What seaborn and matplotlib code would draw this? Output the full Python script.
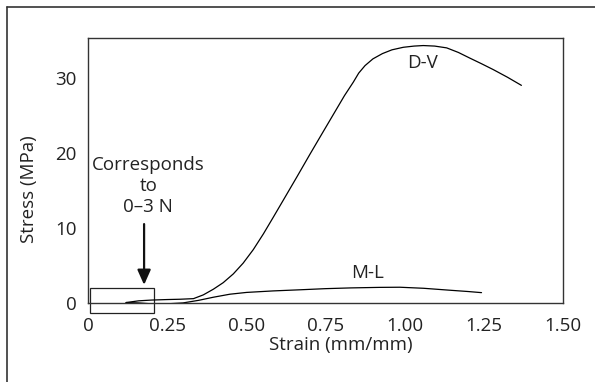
import pandas as pd
import matplotlib
matplotlib.use('Agg')
import matplotlib.pyplot as plt
from matplotlib.patches import Rectangle
from matplotlib.lines import Line2D
import seaborn as sns

# Stress-strain curves
dv_strain = [0.12, 0.16, 0.20, 0.25, 0.29, 0.333, 0.364, 0.396, 0.427, 0.459, 0.49, 0.522,
             0.554, 0.585, 0.617, 0.66, 0.701, 0.74, 0.775, 0.81, 0.838, 0.855, 0.875, 0.90,
             0.93, 0.96, 0.996, 1.03, 1.059, 1.095, 1.133, 1.17, 1.206, 1.243, 1.28, 1.325, 1.369]
dv_stress = [0.05, 0.28, 0.38, 0.45, 0.49, 0.57, 1.07, 1.83, 2.7, 3.87, 5.3, 7.1,
             9.2, 11.4, 13.7, 16.8, 19.8, 22.6, 25.1, 27.6, 29.4, 30.6, 31.6, 32.5,
             33.2, 33.7, 34.04, 34.2, 34.27, 34.2, 33.96, 33.35, 32.6, 31.85, 31.07, 30.05, 28.97]
ml_strain = [0.12, 0.16, 0.20, 0.25, 0.30, 0.35, 0.396, 0.448, 0.501, 0.585, 0.67, 0.75,
             0.83, 0.92, 0.985, 1.06, 1.14, 1.20, 1.243]
ml_stress = [0.05, 0.0, -0.12, -0.12, 0.0, 0.35, 0.76, 1.16, 1.4, 1.6, 1.75, 1.9,
             2.0, 2.07, 2.09, 1.95, 1.7, 1.52, 1.37]

dv = pd.DataFrame({'Strain': dv_strain, 'Stress': dv_stress})
ml = pd.DataFrame({'Strain': ml_strain, 'Stress': ml_stress})

sns.set_style("white")
plt.rcParams['font.family'] = ['Open Sans', 'DejaVu Sans']

fig = plt.figure(figsize=(5.95, 3.82), dpi=100)
ax = fig.add_axes([0.148, 0.207, 0.798, 0.694])

sns.lineplot(data=dv, x='Strain', y='Stress', sort=False, color='black', linewidth=0.9, ax=ax)
sns.lineplot(data=ml, x='Strain', y='Stress', sort=False, color='black', linewidth=0.9, ax=ax)

fs = 13.5
ax.set_xlim(0, 1.5)
ax.set_ylim(0, 35.3)
ax.set_xticks([0, 0.25, 0.5, 0.75, 1.0, 1.25, 1.5])
ax.set_xticklabels(['0', '0.25', '0.50', '0.75', '1.00', '1.25', '1.50'])
ax.set_yticks([0, 10, 20, 30])
ax.tick_params(length=0, labelsize=fs, colors='#222222')
ax.tick_params(axis='x', pad=10)
ax.tick_params(axis='y', pad=8)
for s in ax.spines.values():
    s.set_color('#333333')
    s.set_linewidth(1.0)

ax.set_xlabel('Strain (mm/mm)', fontsize=fs, color='#222222')
ax.set_ylabel('Stress (MPa)', fontsize=fs, color='#222222')
ax.xaxis.set_label_coords(0.533, -0.125)
ax.yaxis.set_label_coords(-0.105, 0.43)

ax.text(1.058, 32.0, 'D-V', ha='center', va='center', fontsize=fs, color='#222222')
ax.text(0.882, 4.0, 'M-L', ha='center', va='center', fontsize=fs, color='#222222')

ax.text(0.19, 15.6, 'Corresponds\nto\n0\u20133 N', ha='center', va='center', fontsize=fs,
        color='#222222', linespacing=1.2)
ax.annotate('', xy=(0.177, 2.4), xytext=(0.177, 10.5),
            arrowprops=dict(arrowstyle='-|>,head_length=0.9,head_width=0.4', color='#111111',
                            lw=1.6, shrinkA=0, shrinkB=0))

ax.add_patch(Rectangle((0.005, -1.33), 0.203, 3.33, fill=False, edgecolor='#222222',
                       linewidth=0.9, clip_on=False))

# outer frame (top and left only; the rest is cropped)
fig.add_artist(Line2D([7 / 595, 1], [1 - 7 / 382, 1 - 7 / 382], color='#333333', lw=1.2))
fig.add_artist(Line2D([7 / 595, 7 / 595], [0, 1 - 7 / 382], color='#333333', lw=1.2))

fig.savefig('out.png', dpi=100)
